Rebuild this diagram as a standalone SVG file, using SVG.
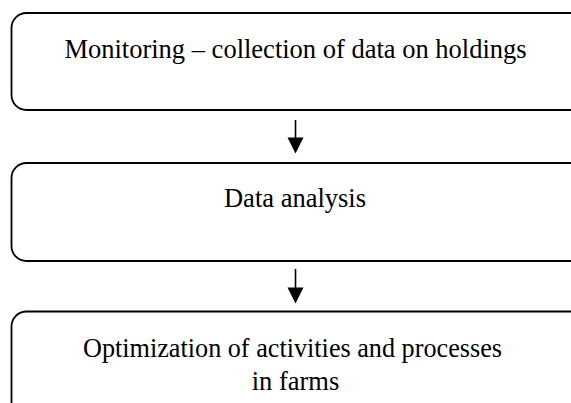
<svg xmlns="http://www.w3.org/2000/svg" width="571" height="403" viewBox="0 0 571 403">
<style>
.box{fill:#fff;stroke:#000;stroke-width:1.8}
.t{font-family:"Liberation Serif","Times New Roman",serif;font-size:26.5px;fill:#000;text-anchor:middle}
.c{stroke:#000;stroke-width:1.6;fill:none}
</style>
<rect width="571" height="403" fill="#fff"/>
<g id="node-monitoring">
<rect class="box" x="11.5" y="13" width="575" height="97" rx="15" ry="15"/>
<text class="t" x="295.5" y="57.5">Monitoring – collection of data on holdings</text>
</g>
<g id="node-analysis">
<rect class="box" x="11.5" y="163" width="575" height="98" rx="15" ry="15"/>
<text class="t" x="295" y="207">Data analysis</text>
</g>
<g id="node-optimization">
<rect class="box" x="11.5" y="311.5" width="575" height="110" rx="15" ry="15"/>
<text class="t" x="292.5" y="357" textLength="419" lengthAdjust="spacingAndGlyphs">Optimization of activities and processes</text>
<text class="t" x="295.5" y="390">in farms</text>
</g>
<g id="connectors">
<line class="c" x1="295.5" y1="120" x2="295.5" y2="140"/>
<path d="M287.5,137.5 L303.5,137.5 L295.5,153.5 Z" fill="#000"/>
<line class="c" x1="295.5" y1="269" x2="295.5" y2="290"/>
<path d="M287.5,287.5 L303.5,287.5 L295.5,303.5 Z" fill="#000"/>
</g>
</svg>
